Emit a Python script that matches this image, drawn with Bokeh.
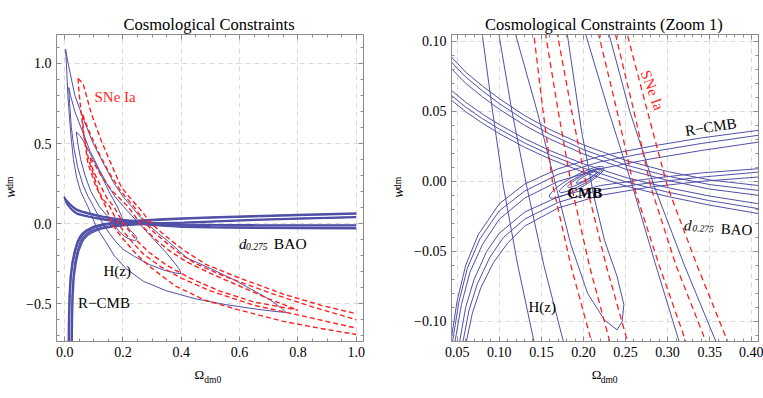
import math
from bokeh.plotting import figure
from bokeh.models import FixedTicker, LinearAxis, Range1d, Label, CustomJSTickFormatter
from bokeh.layouts import row
from bokeh.embed import file_html
from bokeh.resources import INLINE

FONT = "Liberation Serif"
BLUE = "#5050a8"
RED = "#ff1f1f"
FRAME = "#8c8c8c"
GRID = "#d9d9d9"

# ---------------- H(z) contours (closed loops) ----------------
hz1_x = [0.003, 0.006, 0.011, 0.02, 0.03, 0.042, 0.055, 0.068, 0.0797, 0.092, 0.1047, 0.122, 0.1411, 0.17, 0.21,
         0.27, 0.35, 0.45, 0.55, 0.65, 0.72, 0.76, 0.745, 0.7, 0.64, 0.58, 0.5, 0.42, 0.3572, 0.32, 0.2838, 0.255,
         0.2304, 0.2, 0.17, 0.135, 0.098, 0.065, 0.035, 0.012, 0.003]
hz1_y = [1.09, 1.0, 0.8, 0.58, 0.4, 0.28, 0.2, 0.15, 0.105, 0.05, -0.003, -0.06, -0.114, -0.2, -0.28, -0.36, -0.42,
         -0.47, -0.505, -0.532, -0.548, -0.555, -0.53, -0.47, -0.41, -0.35, -0.28, -0.215, -0.114, -0.06, -0.003,
         0.05, 0.105, 0.17, 0.25, 0.37, 0.5, 0.65, 0.8, 1.0, 1.09]
hz2_x = [0.014, 0.017, 0.023, 0.032, 0.045, 0.063, 0.08, 0.0995, 0.115, 0.1324, 0.153, 0.176, 0.2, 0.239, 0.29, 0.34,
         0.38, 0.399, 0.395, 0.375, 0.345, 0.3135, 0.285, 0.258, 0.23, 0.2026, 0.172, 0.145, 0.118, 0.088, 0.06, 0.035,
         0.02, 0.014]
hz2_y = [0.85, 0.75, 0.6, 0.47, 0.35, 0.24, 0.17, 0.105, 0.05, -0.003, -0.06, -0.114, -0.16, -0.205, -0.255, -0.29,
         -0.308, -0.3125, -0.29, -0.24, -0.175, -0.114, -0.058, -0.003, 0.05, 0.105, 0.17, 0.25, 0.34, 0.45, 0.58,
         0.7, 0.8, 0.85]
hz3_x = [0.04, 0.045, 0.055, 0.07, 0.09, 0.1193, 0.145, 0.168, 0.185, 0.205, 0.225, 0.24, 0.246, 0.248, 0.24, 0.225,
         0.2125, 0.198, 0.1808, 0.152, 0.126, 0.098, 0.07, 0.052, 0.04]
hz3_y = [0.573, 0.5, 0.4, 0.3, 0.2, 0.105, 0.05, -0.005, -0.045, -0.08, -0.099, -0.106, -0.1, -0.088, -0.068, -0.042,
         -0.011, 0.035, 0.105, 0.2, 0.3, 0.4, 0.5, 0.55, 0.573]

# ---------------- SNe Ia contours (red dashed branches) ----------------
sn_ro_x = [0.046, 0.063, 0.091, 0.125, 0.16, 0.194, 0.222, 0.252, 0.276, 0.30, 0.335, 0.3711, 0.42, 0.484, 0.6, 0.75, 0.88, 1.0]
sn_ro_y = [0.906, 0.875, 0.69, 0.52, 0.37, 0.229, 0.165, 0.105, 0.05, -0.004, -0.06, -0.114, -0.18, -0.254, -0.34, -0.44, -0.51, -0.5625]
sn_rm_x = [0.062, 0.07, 0.09, 0.12, 0.155, 0.19, 0.212, 0.238, 0.26, 0.28, 0.31, 0.3453, 0.39, 0.45, 0.55, 0.7, 0.85, 1.0]
sn_rm_y = [0.68, 0.64, 0.55, 0.43, 0.31, 0.21, 0.16, 0.105, 0.05, -0.004, -0.06, -0.114, -0.18, -0.25, -0.33, -0.43, -0.52, -0.6]
sn_ri_x = [0.088, 0.1, 0.125, 0.16, 0.19, 0.218, 0.24, 0.26, 0.29, 0.3215, 0.36, 0.42, 0.5, 0.6, 0.7, 0.8]
sn_ri_y = [0.41, 0.38, 0.3, 0.21, 0.155, 0.105, 0.05, -0.004, -0.06, -0.114, -0.17, -0.24, -0.31, -0.39, -0.47, -0.54]
sn_lo_x = [0.046, 0.048, 0.051, 0.063, 0.08, 0.108, 0.141, 0.152, 0.164, 0.185, 0.2094, 0.25, 0.3, 0.38, 0.484, 0.6, 0.75, 0.88, 1.0]
sn_lo_y = [0.906, 0.85, 0.79, 0.583, 0.375, 0.229, 0.105, 0.05, -0.004, -0.06, -0.114, -0.2, -0.28, -0.39, -0.48, -0.54, -0.61, -0.655, -0.692]
sn_lm_x = [0.062, 0.063, 0.066, 0.072, 0.082, 0.1, 0.115, 0.132, 0.155, 0.17, 0.186, 0.207, 0.2311, 0.27, 0.33, 0.4, 0.5, 0.65, 0.8, 1.0]
sn_lm_y = [0.68, 0.62, 0.55, 0.5, 0.4, 0.3, 0.21, 0.15, 0.105, 0.05, -0.004, -0.06, -0.114, -0.19, -0.27, -0.34, -0.42, -0.51, -0.57, -0.6525]
sn_li_x = [0.088, 0.092, 0.106, 0.122, 0.145, 0.169, 0.186, 0.204, 0.227, 0.2522, 0.29, 0.35, 0.43, 0.53, 0.65, 0.8]
sn_li_y = [0.41, 0.36, 0.3, 0.24, 0.16, 0.105, 0.05, -0.004, -0.06, -0.114, -0.18, -0.26, -0.34, -0.42, -0.49, -0.54]

# ---------------- R-CMB band (six lines) ----------------
r1_x = [0.012, 0.013, 0.015, 0.019, 0.025, 0.033, 0.0425, 0.05, 0.06, 0.075, 0.1, 0.13, 0.17, 0.22, 0.28, 0.34, 0.408, 0.5, 0.65, 0.8, 1.0]
r1_y = [-0.74, -0.6, -0.45, -0.33, -0.24, -0.17, -0.114, -0.085, -0.06, -0.038, -0.016, -0.002, 0.009, 0.018, 0.025, 0.031, 0.0364, 0.042, 0.05, 0.058, 0.0665]
r2_x = [0.014, 0.015, 0.017, 0.021, 0.027, 0.035, 0.0445, 0.052, 0.062, 0.077, 0.1, 0.13, 0.17, 0.22, 0.28, 0.34, 0.408, 0.5, 0.65, 0.8, 1.0]
r2_y = [-0.74, -0.6, -0.45, -0.33, -0.24, -0.17, -0.114, -0.086, -0.062, -0.041, -0.021, -0.007, 0.005, 0.014, 0.021, 0.027, 0.0329, 0.038, 0.046, 0.054, 0.0625]
r3_x = [0.016, 0.017, 0.019, 0.023, 0.029, 0.038, 0.0475, 0.055, 0.065, 0.08, 0.1, 0.13, 0.17, 0.22, 0.28, 0.34, 0.408, 0.5, 0.65, 0.8, 1.0]
r3_y = [-0.74, -0.6, -0.45, -0.33, -0.24, -0.17, -0.114, -0.088, -0.065, -0.045, -0.027, -0.012, 0.0, 0.009, 0.016, 0.022, 0.028, 0.034, 0.042, 0.05, 0.059]
r4_x = [0.022, 0.023, 0.025, 0.029, 0.035, 0.043, 0.053, 0.06, 0.07, 0.085, 0.1, 0.13, 0.17, 0.22, 0.28, 0.34, 0.408, 0.5, 0.65, 0.8, 1.0]
r4_y = [-0.74, -0.6, -0.45, -0.33, -0.24, -0.17, -0.114, -0.09, -0.07, -0.05, -0.037, -0.022, -0.011, -0.003, 0.002, 0.006, 0.009, 0.016, 0.026, 0.035, 0.044]
r5_x = [0.024, 0.025, 0.027, 0.031, 0.037, 0.046, 0.057, 0.064, 0.074, 0.089, 0.105, 0.13, 0.17, 0.22, 0.28, 0.34, 0.408, 0.5, 0.65, 0.8, 1.0]
r5_y = [-0.74, -0.6, -0.45, -0.33, -0.24, -0.17, -0.114, -0.092, -0.073, -0.054, -0.04, -0.027, -0.015, -0.006, -0.001, 0.003, 0.0066, 0.013, 0.023, 0.032, 0.041]
r6_x = [0.026, 0.027, 0.029, 0.033, 0.04, 0.049, 0.061, 0.068, 0.078, 0.093, 0.11, 0.13, 0.17, 0.22, 0.28, 0.34, 0.408, 0.5, 0.65, 0.8, 1.0]
r6_y = [-0.74, -0.6, -0.45, -0.33, -0.24, -0.17, -0.114, -0.094, -0.076, -0.058, -0.044, -0.032, -0.019, -0.01, -0.004, 0.0, 0.0031, 0.01, 0.02, 0.029, 0.038]

# ---------------- d_0.275 BAO band (six lines) ----------------
BAO_X = [0.043, 0.06, 0.08, 0.1, 0.13, 0.16, 0.2, 0.25, 0.3, 0.35, 0.408, 0.5, 0.65, 0.8, 1.0]
b1_x = [-0.002, 0.003, 0.01, 0.02, 0.03] + BAO_X
b1_y = [0.168, 0.155, 0.14, 0.121, 0.106, 0.0888, 0.078, 0.068, 0.059, 0.047, 0.037, 0.026, 0.015, 0.007, 0.001, -0.003, -0.0052, -0.0065, -0.0072, -0.0075]
b2_x = [0.0, 0.004, 0.01, 0.02, 0.03] + BAO_X
b2_y = [0.162, 0.15, 0.136, 0.117, 0.102, 0.0852, 0.0745, 0.0645, 0.0555, 0.0437, 0.0337, 0.0227, 0.0117, 0.0037, -0.0023, -0.0065, -0.0087, -0.0100, -0.0107, -0.011]
b3_x = [0.002, 0.005, 0.01, 0.02, 0.03] + BAO_X
b3_y = [0.155, 0.142, 0.13, 0.112, 0.097, 0.0805, 0.0700, 0.0603, 0.0515, 0.0400, 0.0302, 0.0195, 0.0087, 0.0007, -0.0055, -0.0100, -0.0122, -0.0135, -0.0141, -0.0145]
b4_x = [0.002, 0.005, 0.01, 0.02, 0.03] + BAO_X
b4_y = [0.155, 0.135, 0.12, 0.099, 0.082, 0.065, 0.0565, 0.048, 0.0405, 0.0305, 0.022, 0.0125, 0.0028, -0.0045, -0.0105, -0.016, -0.0195, -0.0220, -0.0237, -0.025]
b5_x = [0.0, 0.004, 0.01, 0.02, 0.03] + BAO_X
b5_y = [0.162, 0.138, 0.118, 0.096, 0.079, 0.0614, 0.0530, 0.0447, 0.0373, 0.0274, 0.0190, 0.0095, -0.0003, -0.0077, -0.0138, -0.0195, -0.0230, -0.0255, -0.0272, -0.0285]
b6_x = [-0.002, 0.003, 0.01, 0.02, 0.03] + BAO_X
b6_y = [0.168, 0.138, 0.115, 0.092, 0.075, 0.058, 0.0497, 0.0415, 0.0341, 0.0243, 0.0160, 0.0065, -0.0033, -0.0108, -0.0170, -0.0230, -0.0265, -0.0290, -0.0307, -0.032]

# ---------------- CMB contours (nested ellipses) ----------------
CMB_X = [0.1919, 0.1966, 0.2002, 0.2038]
CMB_Y = [-0.0007, 0.0007, 0.0021, 0.0029]
CMB_W = [0.0737, 0.0571, 0.0428, 0.0285]
CMB_H = [0.0093, 0.0064, 0.0043, 0.0029]

# ---------------- ticks ----------------
L_XTICKS = [0.0, 0.2, 0.4, 0.6, 0.8, 1.0]
L_XLABELS = ["0.0", "0.2", "0.4", "0.6", "0.8", "1.0"]
L_YTICKS = [-0.5, 0.0, 0.5, 1.0]
L_YLABELS = ["\u22120.5", "0.0", "0.5", "1.0"]
R_XTICKS = [0.05, 0.10, 0.15, 0.20, 0.25, 0.30, 0.35, 0.40]
R_XLABELS = ["0.05", "0.10", "0.15", "0.20", "0.25", "0.30", "0.35", "0.40"]
R_YTICKS = [-0.10, -0.05, 0.0, 0.05, 0.10]
R_YLABELS = ["\u22120.10", "\u22120.05", "0.00", "0.05", "0.10"]
L_XMINOR = [round(0.05 * k, 2) for k in range(0, 21)]
L_YMINOR = [round(0.1 * k, 1) for k in range(-7, 12)]
R_XMINOR = [round(0.01 * k, 2) for k in range(4, 41)]
R_YMINOR = [round(0.01 * k, 2) for k in range(-11, 11)]

# positions (data units) of title / axis-label texts, carried as single-tick axes
L_TEXTPOS = dict(title=0.4954, omega=0.462, sub_x=0.508, w=0.1906, sub_y=0.255)
R_TEXTPOS = dict(title=0.2243, omega=0.2157, sub_x=0.2305, w=-0.0084, sub_y=-0.0011)

HZ = [(hz1_x, hz1_y), (hz2_x, hz2_y), (hz3_x, hz3_y)]
SNE = [(sn_ro_x, sn_ro_y), (sn_rm_x, sn_rm_y), (sn_ri_x, sn_ri_y),
       (sn_lo_x, sn_lo_y), (sn_lm_x, sn_lm_y), (sn_li_x, sn_li_y)]
BANDS = [(r1_x, r1_y), (r2_x, r2_y), (r3_x, r3_y), (r4_x, r4_y), (r5_x, r5_y), (r6_x, r6_y),
         (b1_x, b1_y), (b2_x, b2_y), (b3_x, b3_y), (b4_x, b4_y), (b5_x, b5_y), (b6_x, b6_y)]


def formatter(tv, tl):
    return CustomJSTickFormatter(args=dict(tv=tv, tl=tl), code="""
        for (let i = 0; i < tv.length; i++) {
            if (Math.abs(tv[i] - tick) < 1e-9) { return tl[i]; }
        }
        return "";
    """)


def style_axis(ax, ticks, minor, labels, show):
    ax.ticker = FixedTicker(ticks=ticks, minor_ticks=minor)
    ax.axis_line_color = FRAME
    ax.major_tick_line_color = FRAME
    ax.minor_tick_line_color = FRAME
    ax.major_tick_in = 5
    ax.major_tick_out = 0
    ax.minor_tick_in = 3
    ax.minor_tick_out = 0
    if show:
        ax.formatter = formatter(ticks, labels)
        ax.major_label_text_font = FONT
        ax.major_label_text_font_size = "14px"
        ax.major_label_text_color = "black"
        ax.major_label_standoff = 5
    else:
        ax.formatter = formatter([], [])
        ax.major_label_text_font_size = "0px"
        ax.major_label_text_color = None
        ax.major_label_standoff = 0


def text_axis(p, side, pos, text, size, standoff, style="normal", orientation="horizontal"):
    ax = LinearAxis(ticker=FixedTicker(ticks=[pos], minor_ticks=[]), formatter=formatter([pos], [text]))
    ax.axis_line_color = None
    ax.major_tick_line_color = None
    ax.minor_tick_line_color = None
    ax.major_tick_in = 0
    ax.major_tick_out = 0
    ax.minor_tick_in = 0
    ax.minor_tick_out = 0
    ax.major_label_text_font = FONT
    ax.major_label_text_font_size = size
    ax.major_label_text_font_style = style
    ax.major_label_text_color = "black"
    ax.major_label_standoff = standoff
    ax.major_label_orientation = orientation
    p.add_layout(ax, side)


def lab(p, x, y, text, size, color="black", style="normal", align="center", baseline="middle", angle=0.0):
    p.add_layout(Label(x=x, y=y, text=text, text_font=FONT, text_font_size=size, text_color=color,
                       text_font_style=style, text_align=align, text_baseline=baseline, angle=angle))


def make_panel(title, xr, yr, xt, xm, xl, yt, ym, yl, width, bl, br, band_w, red_w, dash, cmb_angle, tp):
    p = figure(width=width, height=390, x_range=Range1d(*xr), y_range=Range1d(*yr),
               output_backend="svg", toolbar_location=None,
               min_border_left=bl, min_border_right=br, min_border_top=34, min_border_bottom=49)
    p.outline_line_color = FRAME
    p.background_fill_color = "white"
    style_axis(p.xaxis[0], xt, xm, xl, True)
    style_axis(p.yaxis[0], yt, ym, yl, True)
    top = LinearAxis()
    style_axis(top, xt, xm, xl, False)
    p.add_layout(top, "above")
    rgt = LinearAxis()
    style_axis(rgt, yt, ym, yl, False)
    p.add_layout(rgt, "right")
    p.xgrid.ticker = FixedTicker(ticks=xt)
    p.ygrid.ticker = FixedTicker(ticks=yt)
    p.xgrid.grid_line_color = GRID
    p.ygrid.grid_line_color = GRID
    p.xgrid.grid_line_dash = "5 4"
    p.ygrid.grid_line_dash = "5 4"

    # title and axis labels carried by label-only axes outside the frame
    text_axis(p, "above", tp["title"], title, "16.5px", 1)
    text_axis(p, "below", tp["omega"], "\u03a9", "13px", 7)
    text_axis(p, "below", tp["sub_x"], "dm0", "9.5px", -10)
    text_axis(p, "left", tp["sub_y"], "dm", "9.5px", 8, orientation="parallel")
    text_axis(p, "left", tp["w"], "w", "14px", -16, style="italic", orientation="parallel")

    for xs, ys in BANDS:
        p.line(xs, ys, line_color=BLUE, line_width=band_w)
    for xs, ys in HZ:
        p.line(xs, ys, line_color=BLUE, line_width=1.0)
    p.ellipse(x=CMB_X, y=CMB_Y, width=CMB_W, height=CMB_H, angle=cmb_angle,
              fill_color=None, line_color=BLUE, line_width=1.0)
    for xs, ys in SNE:
        p.line(xs, ys, line_color=RED, line_width=red_w, line_dash=dash)
    return p


left = make_panel("Cosmological Constraints", (-0.028, 1.025), (-0.736, 1.181),
                  L_XTICKS, L_XMINOR, L_XLABELS, L_YTICKS, L_YMINOR, L_YLABELS,
                  380, 55, 17, 1.3, 1.4, "5 3", 0.18, L_TEXTPOS)
lab(left, 0.173, 0.791, "SNe Ia", "15px", color=RED)
lab(left, 0.18, -0.298, "H(z)", "15px")
lab(left, 0.135, -0.497, "R\u2212CMB", "15px")
lab(left, 0.598, -0.125, "d", "15px", style="italic", align="left", baseline="alphabetic")
lab(left, 0.622, -0.142, "0.275", "9.5px", style="italic", align="left", baseline="alphabetic")
lab(left, 0.7175, -0.125, "BAO", "15.5px", align="left", baseline="alphabetic")

right = make_panel("Cosmological Constraints (Zoom 1)", (0.0432, 0.408), (-0.1143, 0.1048),
                   R_XTICKS, R_XMINOR, R_XLABELS, R_YTICKS, R_YMINOR, R_YLABELS,
                   383, 71, 5, 1.0, 1.3, "6 4", 0.5, R_TEXTPOS)
lab(right, 0.2819, 0.065, "SNe Ia", "15px", color=RED, angle=-1.22)
lab(right, 0.3513, 0.0388, "R\u2212CMB", "15px", angle=0.16)
lab(right, 0.151, -0.09, "H(z)", "15px")
lab(right, 0.2014, -0.0086, "CMB", "15px", style="bold")
lab(right, 0.3195, -0.0314, "d", "15px", style="italic", align="left", baseline="alphabetic", angle=-0.05)
lab(right, 0.3295, -0.0331, "0.275", "9.5px", style="italic", align="left", baseline="alphabetic", angle=-0.05)
lab(right, 0.3631, -0.0338, "BAO", "15px", align="left", baseline="alphabetic", angle=-0.05)

layout = row(left, right)
open("out.html", "w").write(file_html(layout, INLINE))
